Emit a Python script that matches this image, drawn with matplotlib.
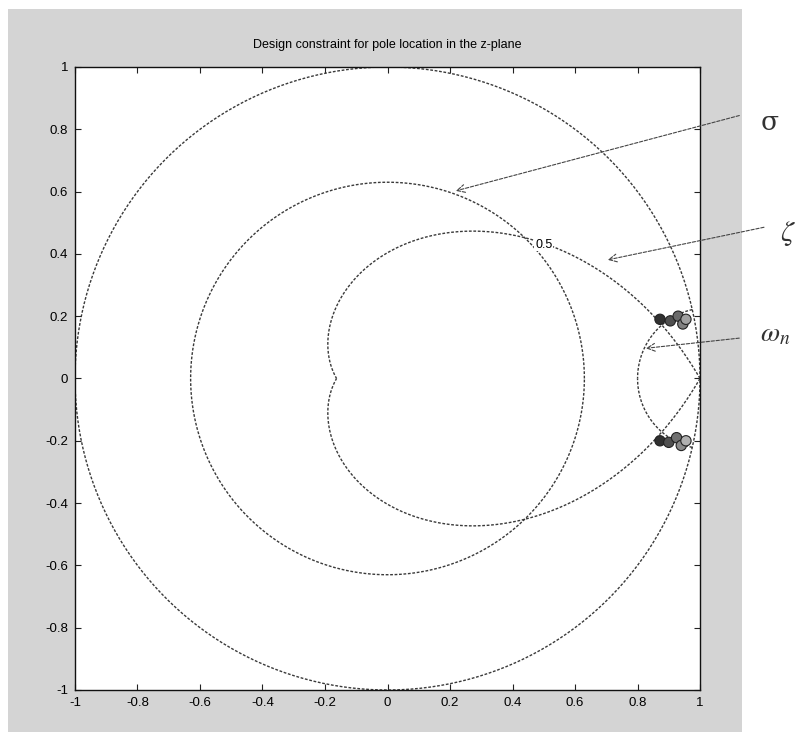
import numpy as np
import matplotlib.pyplot as plt
from matplotlib.patches import Rectangle

plt.rcParams['font.family'] = ['Liberation Sans', 'DejaVu Sans']
plt.rcParams['mathtext.fontset'] = 'stix'

# constraint parameters
unit_radius = 1.0
sigma_radius = 0.63      # |z| = exp(-sigma*T)
zeta = 0.5               # damping ratio line
wn_T = 0.223             # natural frequency * T
zeta_label = '0.5'

# closed-loop poles (scattered markers near the design point)
poles_re = [0.872, 0.905, 0.93, 0.945, 0.955, 0.872, 0.90, 0.925, 0.94, 0.955]
poles_im = [0.19, 0.185, 0.20, 0.175, 0.19, -0.20, -0.205, -0.19, -0.215, -0.20]
poles_shade = ['#303030', '#505050', '#6a6a6a', '#808080', '#a0a0a0',
               '#303030', '#505050', '#707070', '#8a8a8a', '#b0b0b0']

ticks = [-1, -0.8, -0.6, -0.4, -0.2, 0, 0.2, 0.4, 0.6, 0.8, 1]
tick_labels = ['-1', '-0.8', '-0.6', '-0.4', '-0.2', '0', '0.2', '0.4', '0.6', '0.8', '1']

line_kw = dict(color='#3a3a3a', lw=1.0, linestyle=(0, (2.0, 1.2)))

fig = plt.figure(figsize=(7.97, 7.36), dpi=100, facecolor='white')
# grey MATLAB figure window, kept behind the axes
bg = Rectangle((0.010, 0.006), 0.921, 0.982, transform=fig.transFigure,
               facecolor='#d4d4d4', edgecolor='none', zorder=-10)
fig.add_artist(bg)

ax = fig.add_axes([0.0941, 0.0625, 0.7842, 0.8465])
ax.set_facecolor('white')

t = np.linspace(0, 2 * np.pi, 400)
ax.plot(unit_radius * np.cos(t), unit_radius * np.sin(t), **line_kw)
ax.plot(sigma_radius * np.cos(t), sigma_radius * np.sin(t), **line_kw)

# constant damping ratio curve
th = np.linspace(0, np.pi, 400)
r = np.exp(-zeta / np.sqrt(1 - zeta ** 2) * th)
ax.plot(r * np.cos(th), r * np.sin(th), **line_kw)
ax.plot(r * np.cos(th), -r * np.sin(th), **line_kw)

# constant natural frequency curve
zz = np.linspace(0, 1, 200)
zc = np.exp(wn_T * (-zz + 1j * np.sqrt(1 - zz ** 2)))
ax.plot(zc.real, zc.imag, **line_kw)
ax.plot(zc.real, -zc.imag, **line_kw)

ax.text(0.50, 0.43, zeta_label, fontsize=9, ha='center', va='center',
        bbox=dict(facecolor='white', edgecolor='none', pad=0.5))

ax.scatter(poles_re, poles_im, s=55, c=poles_shade, edgecolors='#222222',
           linewidths=0.8, zorder=5)

ax.set_xlim(-1, 1)
ax.set_ylim(-1, 1)
ax.set_xticks(ticks)
ax.set_xticklabels(tick_labels)
ax.set_yticks(ticks)
ax.set_yticklabels(tick_labels)
ax.tick_params(direction='in', length=4, width=0.8, top=True, right=True,
               labelsize=9.5, pad=5, color='#222222')
for s in ax.spines.values():
    s.set_linewidth(1.0)
    s.set_color('#111111')
ax.set_title('Design constraint for pole location in the z-plane', fontsize=9, pad=14)

# annotations outside the axes
arrow_kw = dict(arrowstyle='->', color='#444444', lw=0.8, linestyle=(0, (3, 1.5)),
                mutation_scale=14)
ax.annotate('', xy=(0.21, 0.60), xycoords='data', xytext=(0.931, 0.844),
            textcoords='figure fraction', arrowprops=arrow_kw, annotation_clip=False)
ax.annotate('', xy=(0.696, 0.379), xycoords='data', xytext=(0.962, 0.692),
            textcoords='figure fraction', arrowprops=arrow_kw, annotation_clip=False)
ax.annotate('', xy=(0.818, 0.096), xycoords='data', xytext=(0.931, 0.541),
            textcoords='figure fraction', arrowprops=arrow_kw, annotation_clip=False)
fig.text(0.966, 0.834, 'σ', fontsize=19, ha='center', va='center', family='DejaVu Serif',
         color='#333333')
fig.text(0.988, 0.683, r'$\zeta$', fontsize=21, ha='center', va='center', color='#333333')
fig.text(0.972, 0.545, r'$\omega_n$', fontsize=20, ha='center', va='center', color='#333333')

fig.savefig('out.png', dpi=100, facecolor='white')
